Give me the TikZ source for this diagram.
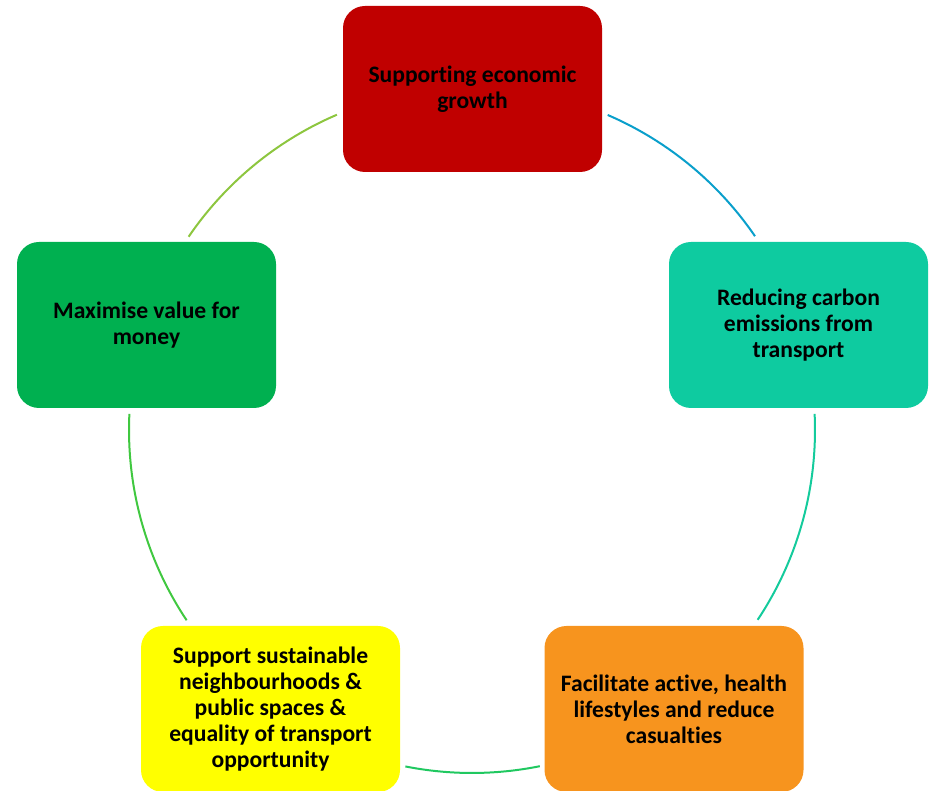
\documentclass[tikz,border=0pt]{standalone}
\usepackage{fontspec}
\setmainfont[Ligatures=NoCommon]{Carlito}
\definecolor{boxred}{HTML}{C00000}
\definecolor{boxteal}{HTML}{0ECBA0}
\definecolor{boxorange}{HTML}{F7941E}
\definecolor{boxyellow}{HTML}{FFFF00}
\definecolor{boxgreen}{HTML}{00B050}
\definecolor{arcblue}{HTML}{0A9FCB}
\definecolor{arcteal}{HTML}{14CB9C}
\definecolor{arcgreenA}{HTML}{20C860}
\definecolor{arcgreenB}{HTML}{40C840}
\definecolor{arclime}{HTML}{8DC63F}
\begin{document}
\begin{tikzpicture}[x=1pt,y=1pt,
  goal/.style={rounded corners=22pt, minimum width=259pt, minimum height=166pt,
    align=center, inner sep=0pt, text=black,
    font=\fontsize{23.6}{26}\selectfont\bfseries},
  ring/.style={line width=2pt}]
\useasboundingbox (0,0) rectangle (930,791);
\coordinate (c) at (472,361);
\node[goal, fill=boxred]    (g1) at (472.5,702) {Supporting economic\\growth};
\node[goal, fill=boxteal]   (g2) at (798.5,466) {Reducing carbon\\emissions from\\transport};
\node[goal, fill=boxorange] (g3) at (674,82)    {Facilitate active, health\\lifestyles and reduce\\casualties};
\node[goal, fill=boxyellow] (g4) at (270.5,82)  {Support sustainable\\neighbourhoods \&\\public spaces \&\\equality of transport\\opportunity};
\node[goal, fill=boxgreen]  (g5) at (146.5,466) {Maximise value for\\money};
\draw[ring, arcblue]   ([shift={(66.7:343)}]c)  arc[start angle=66.7,  end angle=34.4,   radius=343];
\draw[ring, arcteal]   ([shift={(2.7:343)}]c)   arc[start angle=2.7,   end angle=-33.6,  radius=343];
\draw[ring, arcgreenA] ([shift={(-78.6:343)}]c) arc[start angle=-78.6, end angle=-101.2, radius=343];
\draw[ring, arcgreenB] ([shift={(-146.3:343)}]c) arc[start angle=-146.3, end angle=-182.7, radius=343];
\draw[ring, arclime]   ([shift={(145.7:343)}]c) arc[start angle=145.7, end angle=113.2,  radius=343];
\end{tikzpicture}
\end{document}
